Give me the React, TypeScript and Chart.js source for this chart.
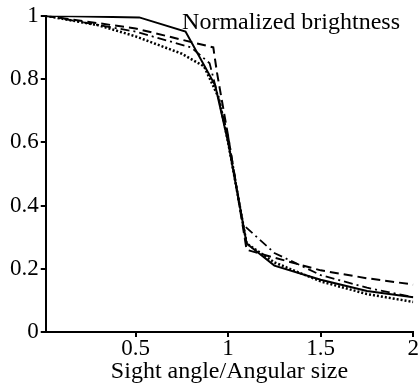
import React, { useEffect, useRef } from "react";
import { Chart, registerables } from "chart.js";

Chart.register(...registerables);

const solidX = [0.015, 0.52, 0.77, 0.93, 1.0, 1.1, 1.25, 1.5, 1.75, 2];
const solidY = [1, 0.995, 0.95, 0.78, 0.6, 0.28, 0.21, 0.165, 0.13, 0.11];

const dashedX = [0.015, 0.5, 0.92, 0.94, 1.0, 1.1, 1.25, 1.5, 1.75, 2];
const dashedY = [1, 0.96, 0.9, 0.82, 0.62, 0.26, 0.235, 0.195, 0.17, 0.15];

const dottedX = [0.015, 0.3, 0.5, 0.75, 0.87, 0.95, 1.0, 1.1, 1.25, 1.5, 1.75, 2];
const dottedY = [1, 0.97, 0.935, 0.88, 0.84, 0.74, 0.6, 0.28, 0.22, 0.16, 0.12, 0.095];

const dashDotX = [0.015, 0.5, 0.8, 0.9, 1.0, 1.08, 1.25, 1.5, 1.75, 2];
const dashDotY = [1, 0.95, 0.9, 0.85, 0.62, 0.34, 0.25, 0.18, 0.14, 0.11];

const xTicks = [0.5, 1, 1.5, 2];
const yTicks = [0, 0.2, 0.4, 0.6, 0.8, 1];

const chartTitle = "Normalized brightness";
const xTitle = "Sight angle/Angular size";

const FONT = "'Liberation Serif', 'Times New Roman', serif";

function pts(xs: number[], ys: number[]) {
  return xs.map((x, i) => ({ x, y: ys[i] }));
}

const titlePlugin = {
  id: "innerTitle",
  afterDraw(chart: any) {
    const ctx = chart.ctx;
    ctx.save();
    ctx.font = `24px ${FONT}`;
    ctx.fillStyle = "#000";
    ctx.textAlign = "right";
    ctx.textBaseline = "alphabetic";
    ctx.fillText(chartTitle, 400, 29);
    ctx.restore();
  },
};

export default function App() {
  const ref = useRef<HTMLCanvasElement>(null);
  useEffect(() => {
    document.body.style.margin = "0";
    const ds = (data: any, dash: number[], width: number) => ({
      data,
      borderColor: "#000",
      backgroundColor: "#000",
      borderWidth: width,
      borderDash: dash,
      pointRadius: 0,
      tension: 0,
      fill: false,
    });
    const chart = new Chart(ref.current!, {
      type: "line",
      data: {
        datasets: [
          ds(pts(dottedX, dottedY), [2, 2], 2.5),
          ds(pts(dashDotX, dashDotY), [9, 4, 2, 4], 1.8),
          ds(pts(dashedX, dashedY), [9, 5], 2),
          ds(pts(solidX, solidY), [], 2),
        ],
      },
      options: {
        animation: false,
        responsive: false,
        maintainAspectRatio: false,
        layout: { padding: { left: 8, top: 6, right: 0, bottom: 1 } },
        plugins: { legend: { display: false }, tooltip: { enabled: false } },
        scales: {
          x: {
            type: "linear",
            min: 0.015,
            max: 2,
            afterBuildTicks: (axis: any) => {
              axis.ticks = xTicks.map((v) => ({ value: v }));
            },
            ticks: {
              color: "#000",
              padding: 0,
              maxRotation: 0,
              font: { family: FONT, size: 23, lineHeight: 1 },
              callback: (v: any) => String(v),
            },
            grid: {
              display: true,
              drawOnChartArea: false,
              drawTicks: true,
              tickLength: 5,
              color: "#000",
              lineWidth: 2,
            },
            border: { display: true, color: "#000", width: 2 },
            title: {
              display: true,
              text: xTitle,
              color: "#000",
              padding: 0,
              font: { family: FONT, size: 24, lineHeight: 1 },
            },
          },
          y: {
            min: 0,
            max: 1,
            afterBuildTicks: (axis: any) => {
              axis.ticks = yTicks.map((v) => ({ value: v }));
            },
            ticks: {
              color: "#000",
              padding: 2,
              font: { family: FONT, size: 23, lineHeight: 1.2 },
              callback: (v: any) => String(v),
            },
            grid: {
              display: true,
              drawOnChartArea: false,
              drawTicks: true,
              tickLength: 5,
              color: "#000",
              lineWidth: 2,
            },
            border: { display: true, color: "#000", width: 2 },
          },
        },
      },
      plugins: [titlePlugin],
    });
    return () => chart.destroy();
  }, []);
  return (
    <div style={{ width: 419, height: 385 }}>
      <canvas ref={ref} width={419} height={385} style={{ display: "block" }} />
    </div>
  );
}
